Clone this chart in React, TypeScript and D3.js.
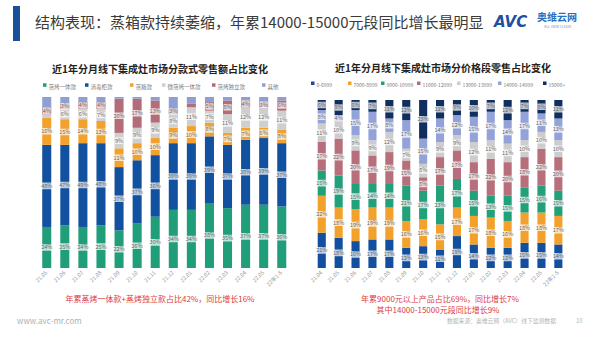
import React from "react";
import * as d3 from "d3";

// ---------- data ----------
const leftCategories = ["21.05","21.06","21.07","21.08","21.09","21.10","21.11","21.12","22.01","22.02","22.03","22.04","22.05","22年1-5"];
const leftSeries = ["蒸烤一体款","消毒柜款","蒸箱款","微蒸烤一体款","蒸烤独立款","其他"];
const zhengkaoYiti = [24,25,24,25,22,26,30,34,34,38,35,37,37,36];
const xiaoduGui = [48,47,49,48,37,37,36,39,39,39,37,38,39,37];
const zhengXiang = [16,15,14,13,11,10,10,9,10,8,7,7,6,8];
const weiZhengkao = [2,6,6,7,9,9,9,8,11,7,11,12,12,11];
const zhengkaoDuli = [4,3,4,4,20,17,13,3,2,5,8,4,3,6];
const qita = [6,4,3,3,1,1,2,7,4,3,2,2,3,2];

const rightCategories = ["21.04","21.05","21.06","21.07","21.08","21.09","21.10","21.11","21.12","22.01","22.02","22.03","22.04","22.05","22年1-5"];
const rightSeries = ["0-6999","7000-8999","9000-10999","11000-12999","13000-13999","14000-14999","15000+"];
const p0_6999 = [21,18,16,17,17,12,13,11,19,14,12,12,15,15,14];
const p7000_8999 = [22,18,19,19,19,16,16,15,17,17,18,16,18,18,17];
const p9000_10999 = [15,19,15,14,14,21,17,23,17,15,13,15,15,16,15];
const p11000_12999 = [17,22,20,17,19,15,8,17,17,17,22,20,18,22,20];
const p13000_13999 = [11,10,9,9,12,7,8,9,9,12,11,11,10,10,10];
const p14000_14999 = [8,4,15,17,8,17,15,14,12,15,17,14,17,11,13];
const p15000plus = [6,9,6,7,11,12,23,11,9,10,7,12,7,8,11];

const leftColors = ["#1f9e79","#11519f","#f2a22c","#cfcfcf","#b46d78","#8f9fd6"];
const rightColors = ["#12509f","#f2a22c","#21a079","#b7707b","#cdcdcd","#93a3d9","#102f5f"];

const FONT = "'Noto Sans CJK SC','Noto Sans',sans-serif";

type ChartProps = {
  categories: string[];
  seriesNames: string[];
  values: number[][];
  colors: string[];
  x0: number; x1: number; yTop: number; yBottom: number;
  padInner: number;
  title: string; titleX: number; titleY: number;
  legendXs: number[]; legendY: number; legendFont: number;
  noLabel: number[];
};

function StackChart(p: ChartProps) {
  const rows = p.categories.map((c, i) => {
    const r: any = { cat: c };
    p.seriesNames.forEach((s, j) => (r[s] = p.values[j][i]));
    return r;
  });
  const stacked = d3.stack<any>().keys(p.seriesNames)(rows);
  const x = d3.scaleBand().domain(p.categories).range([p.x0, p.x1]).paddingInner(p.padInner).paddingOuter(p.padInner / 2);
  const y = d3.scaleLinear().domain([0, 100]).range([p.yBottom, p.yTop]);
  const bw = x.bandwidth();
  return (
    <g>
      <text x={p.titleX} y={p.titleY} textAnchor="middle" fontSize={10} fontWeight="bold" fill="#222" fontFamily={FONT}>{p.title}</text>
      {p.seriesNames.map((s, j) => (
        <g key={s} transform={`translate(${p.legendXs[j]},${p.legendY})`}>
          <rect x={0} y={-p.legendFont * 0.4 - 1.5} width={3.5} height={3.5} fill={p.colors[j]} />
          <text x={5.5} y={0} dy="0.35em" fontSize={p.legendFont} fill="#777" fontFamily={FONT}>{s}</text>
        </g>
      ))}
      {stacked.map((layer, j) => (
        <g key={layer.key} fill={p.colors[j]}>
          {layer.map((d, i) => (
            <rect key={i} x={x(p.categories[i])} y={y(d[1])} width={bw} height={y(d[0]) - y(d[1])} />
          ))}
        </g>
      ))}
      {stacked.map((layer, j) => (
        <g key={"l" + layer.key}>
          {layer.map((d, i) => {
            const v = d[1] - d[0];
            if (v < 3 || p.noLabel.includes(j)) return null;
            const cx = (x(p.categories[i]) as number) + bw / 2;
            const cy = (y(d[0]) + y(d[1])) / 2;
            const t = `${v}%`;
            const w = t.length * 3.1 + 2;
            return (
              <g key={i}>
                <rect x={cx - w / 2} y={cy - 3.3} width={w} height={6.6} rx={1} fill="#ffffff" fillOpacity={0.72} />
                <text x={cx} y={cy} dy="0.35em" textAnchor="middle" fontSize={5.5} fill="#666" fontFamily={FONT}>{t}</text>
              </g>
            );
          })}
        </g>
      ))}
      {p.categories.map((c) => {
        const cx = (x(c) as number) + bw / 2 + 1;
        return (
          <text key={c} transform={`translate(${cx},${p.yBottom + 5}) rotate(-45)`} textAnchor="end" fontSize={5.5} fill="#999" fontFamily={FONT}>{c}</text>
        );
      })}
    </g>
  );
}

export default function App() {
  return (
    <svg width={600} height={338} style={{ position: "absolute", left: 0, top: 0, background: "#fff" }}>
      <rect x={0} y={0} width={600} height={338} fill="#fff" />
      {/* header */}
      <rect x={13} y={6} width={7} height={35} fill="#1a4f9c" />
      <text x={35} y={28} fontSize={15} fill="#3a3a3a" fontFamily={FONT}>结构表现：蒸箱款持续萎缩，年累14000-15000元段同比增长最明显</text>
      <text x={494} y={27} fontSize={15} fontWeight={900} fontStyle="italic" fill="#1f4f9f" fontFamily="'DejaVu Sans',sans-serif">AVC</text>
      <text x={537} y={21} fontSize={10} fontWeight="bold" fill="#2a6fc0" fontFamily={FONT}>奥维云网</text>
      <text x={544} y={27.5} fontSize={3.5} fill="#6a8fc8" fontFamily={FONT}>ALL VIEW CLOUD</text>

      <StackChart
        categories={leftCategories}
        seriesNames={leftSeries}
        values={[zhengkaoYiti, xiaoduGui, zhengXiang, weiZhengkao, zhengkaoDuli, qita]}
        colors={leftColors}
        x0={37.7} x1={290.8} yTop={97} yBottom={268} padInner={0.5}
        title="近1年分月线下集成灶市场分款式零售额占比变化" titleX={160} titleY={73}
        legendXs={[43, 85, 130, 162, 212, 262]} legendY={87} legendFont={5.5}
        noLabel={[5]}
      />
      <StackChart
        categories={rightCategories}
        seriesNames={rightSeries}
        values={[p0_6999, p7000_8999, p9000_10999, p11000_12999, p13000_13999, p14000_14999, p15000plus]}
        colors={rightColors}
        x0={313.3} x1={566.8} yTop={100} yBottom={268} padInner={0.52}
        title="近1年分月线下集成灶市场分价格段零售占比变化" titleX={443} titleY={72}
        legendXs={[311, 348, 381, 417, 457, 498, 543]} legendY={85} legendFont={5}
        noLabel={[]}
      />

      {/* footnotes */}
      <text x={160} y={302} textAnchor="middle" fontSize={8} fill="#e03a3e" fontFamily={FONT}>年累蒸烤一体款+蒸烤独立款占比42%，同比增长16%</text>
      <text x={440} y={301.5} textAnchor="middle" fontSize={8} fill="#e03a3e" fontFamily={FONT}>年累9000元以上产品占比69%，同比增长7%</text>
      <text x={438} y={313} textAnchor="middle" fontSize={8} fill="#e03a3e" fontFamily={FONT}>其中14000-15000元段同比增长9%</text>
      <text x={17} y={324} fontSize={8} fill="#b0b0b0" fontFamily={FONT}>www.avc-mr.com</text>
      <text x={447} y={323} fontSize={5.8} fill="#b5b5b5" fontFamily={FONT}>数据来源：奥维云网（AVC）线下监测数据</text>
      <text x={576} y={323} fontSize={5.8} fill="#b5b5b5" fontFamily={FONT}>10</text>
    </svg>
  );
}
